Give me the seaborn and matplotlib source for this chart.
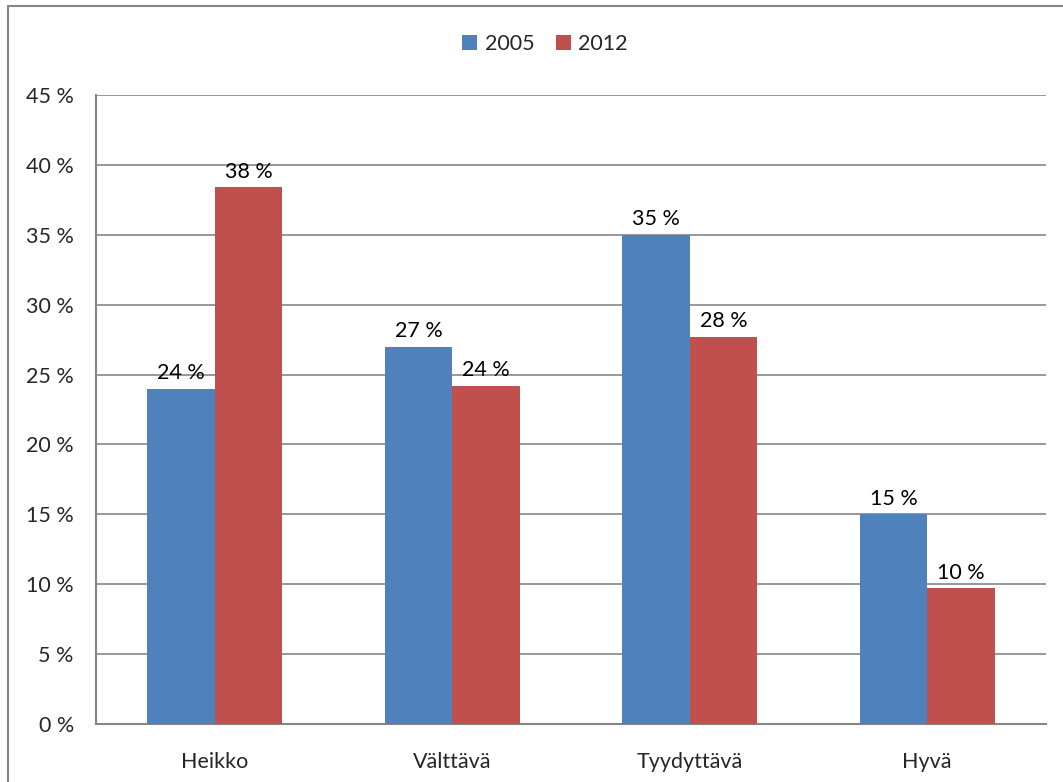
import matplotlib
matplotlib.use("Agg")
import matplotlib.pyplot as plt
from matplotlib.lines import Line2D
from matplotlib.patches import Patch
import pandas as pd
import seaborn as sns

categories = ["Heikko", "Välttävä", "Tyydyttävä", "Hyvä"]
years = ["2005", "2012"]
values_2005 = [24.0, 27.0, 35.0, 15.0]
values_2012 = [38.4, 24.2, 27.7, 9.7]
y_ticks = [0, 5, 10, 15, 20, 25, 30, 35, 40, 45]
colors = {"2005": "#4F81BD", "2012": "#C0504D"}

df = pd.DataFrame({
    "luokka": categories * 2,
    "vuosi": [years[0]] * 4 + [years[1]] * 4,
    "osuus": values_2005 + values_2012,
})

sns.set_style("white")
plt.rcParams["font.family"] = ["Lato", "DejaVu Sans"]
grey = "#868686"
fs = 15.5

fig = plt.figure(figsize=(10.63, 7.82), dpi=100)
ax = fig.add_axes([96 / 1063, 1 - 724 / 782, (1046 - 96) / 1063, (724 - 95) / 782])

sns.barplot(data=df, x="luokka", y="osuus", hue="vuosi", palette=colors,
            width=0.57, saturation=1, ax=ax, legend=False, zorder=3,
            edgecolor="none", linewidth=0)

for cont in ax.containers:
    ax.bar_label(cont, labels=[f"{v:.0f} %" for v in cont.datavalues],
                 padding=4, fontsize=fs, color="black")

ax.set_ylim(0, 45)
ax.set_xlim(-0.5, len(categories) - 0.5)
ax.set_yticks(y_ticks)
ax.set_yticklabels([f"{t} %" for t in y_ticks], fontsize=fs)
ax.tick_params(axis="y", length=6, color=grey, direction="out", pad=10)
ax.tick_params(axis="x", length=0, labelsize=fs, pad=20)
ax.set_xticks([i - 0.5 for i in range(len(categories) + 1)], minor=True)
ax.tick_params(axis="x", which="minor", length=6, color=grey, direction="out")
ax.set_xlabel("")
ax.set_ylabel("")
ax.grid(axis="y", color=grey, linewidth=1.2, zorder=0)
ax.set_axisbelow(True)
for side in ["top", "right"]:
    ax.spines[side].set_visible(False)
for side in ["left", "bottom"]:
    ax.spines[side].set_color(grey)
    ax.spines[side].set_linewidth(1.5)

handles = [Patch(facecolor=colors[y], edgecolor="none") for y in years]
fig.legend(handles, years, loc="center", bbox_to_anchor=(545 / 1063, 1 - 44 / 782),
           ncol=2, frameon=False, fontsize=fs, handlelength=0.7, handleheight=0.7,
           handletextpad=0.35, columnspacing=1.0)

# chart frame (only left and top edges are inside the picture)
fig.add_artist(Line2D([8 / 1063, 8 / 1063], [0, 1 - 6 / 782], color=grey, linewidth=1.5))
fig.add_artist(Line2D([8 / 1063, 1], [1 - 6 / 782, 1 - 6 / 782], color=grey, linewidth=1.5))

fig.savefig("out.png", dpi=100)
